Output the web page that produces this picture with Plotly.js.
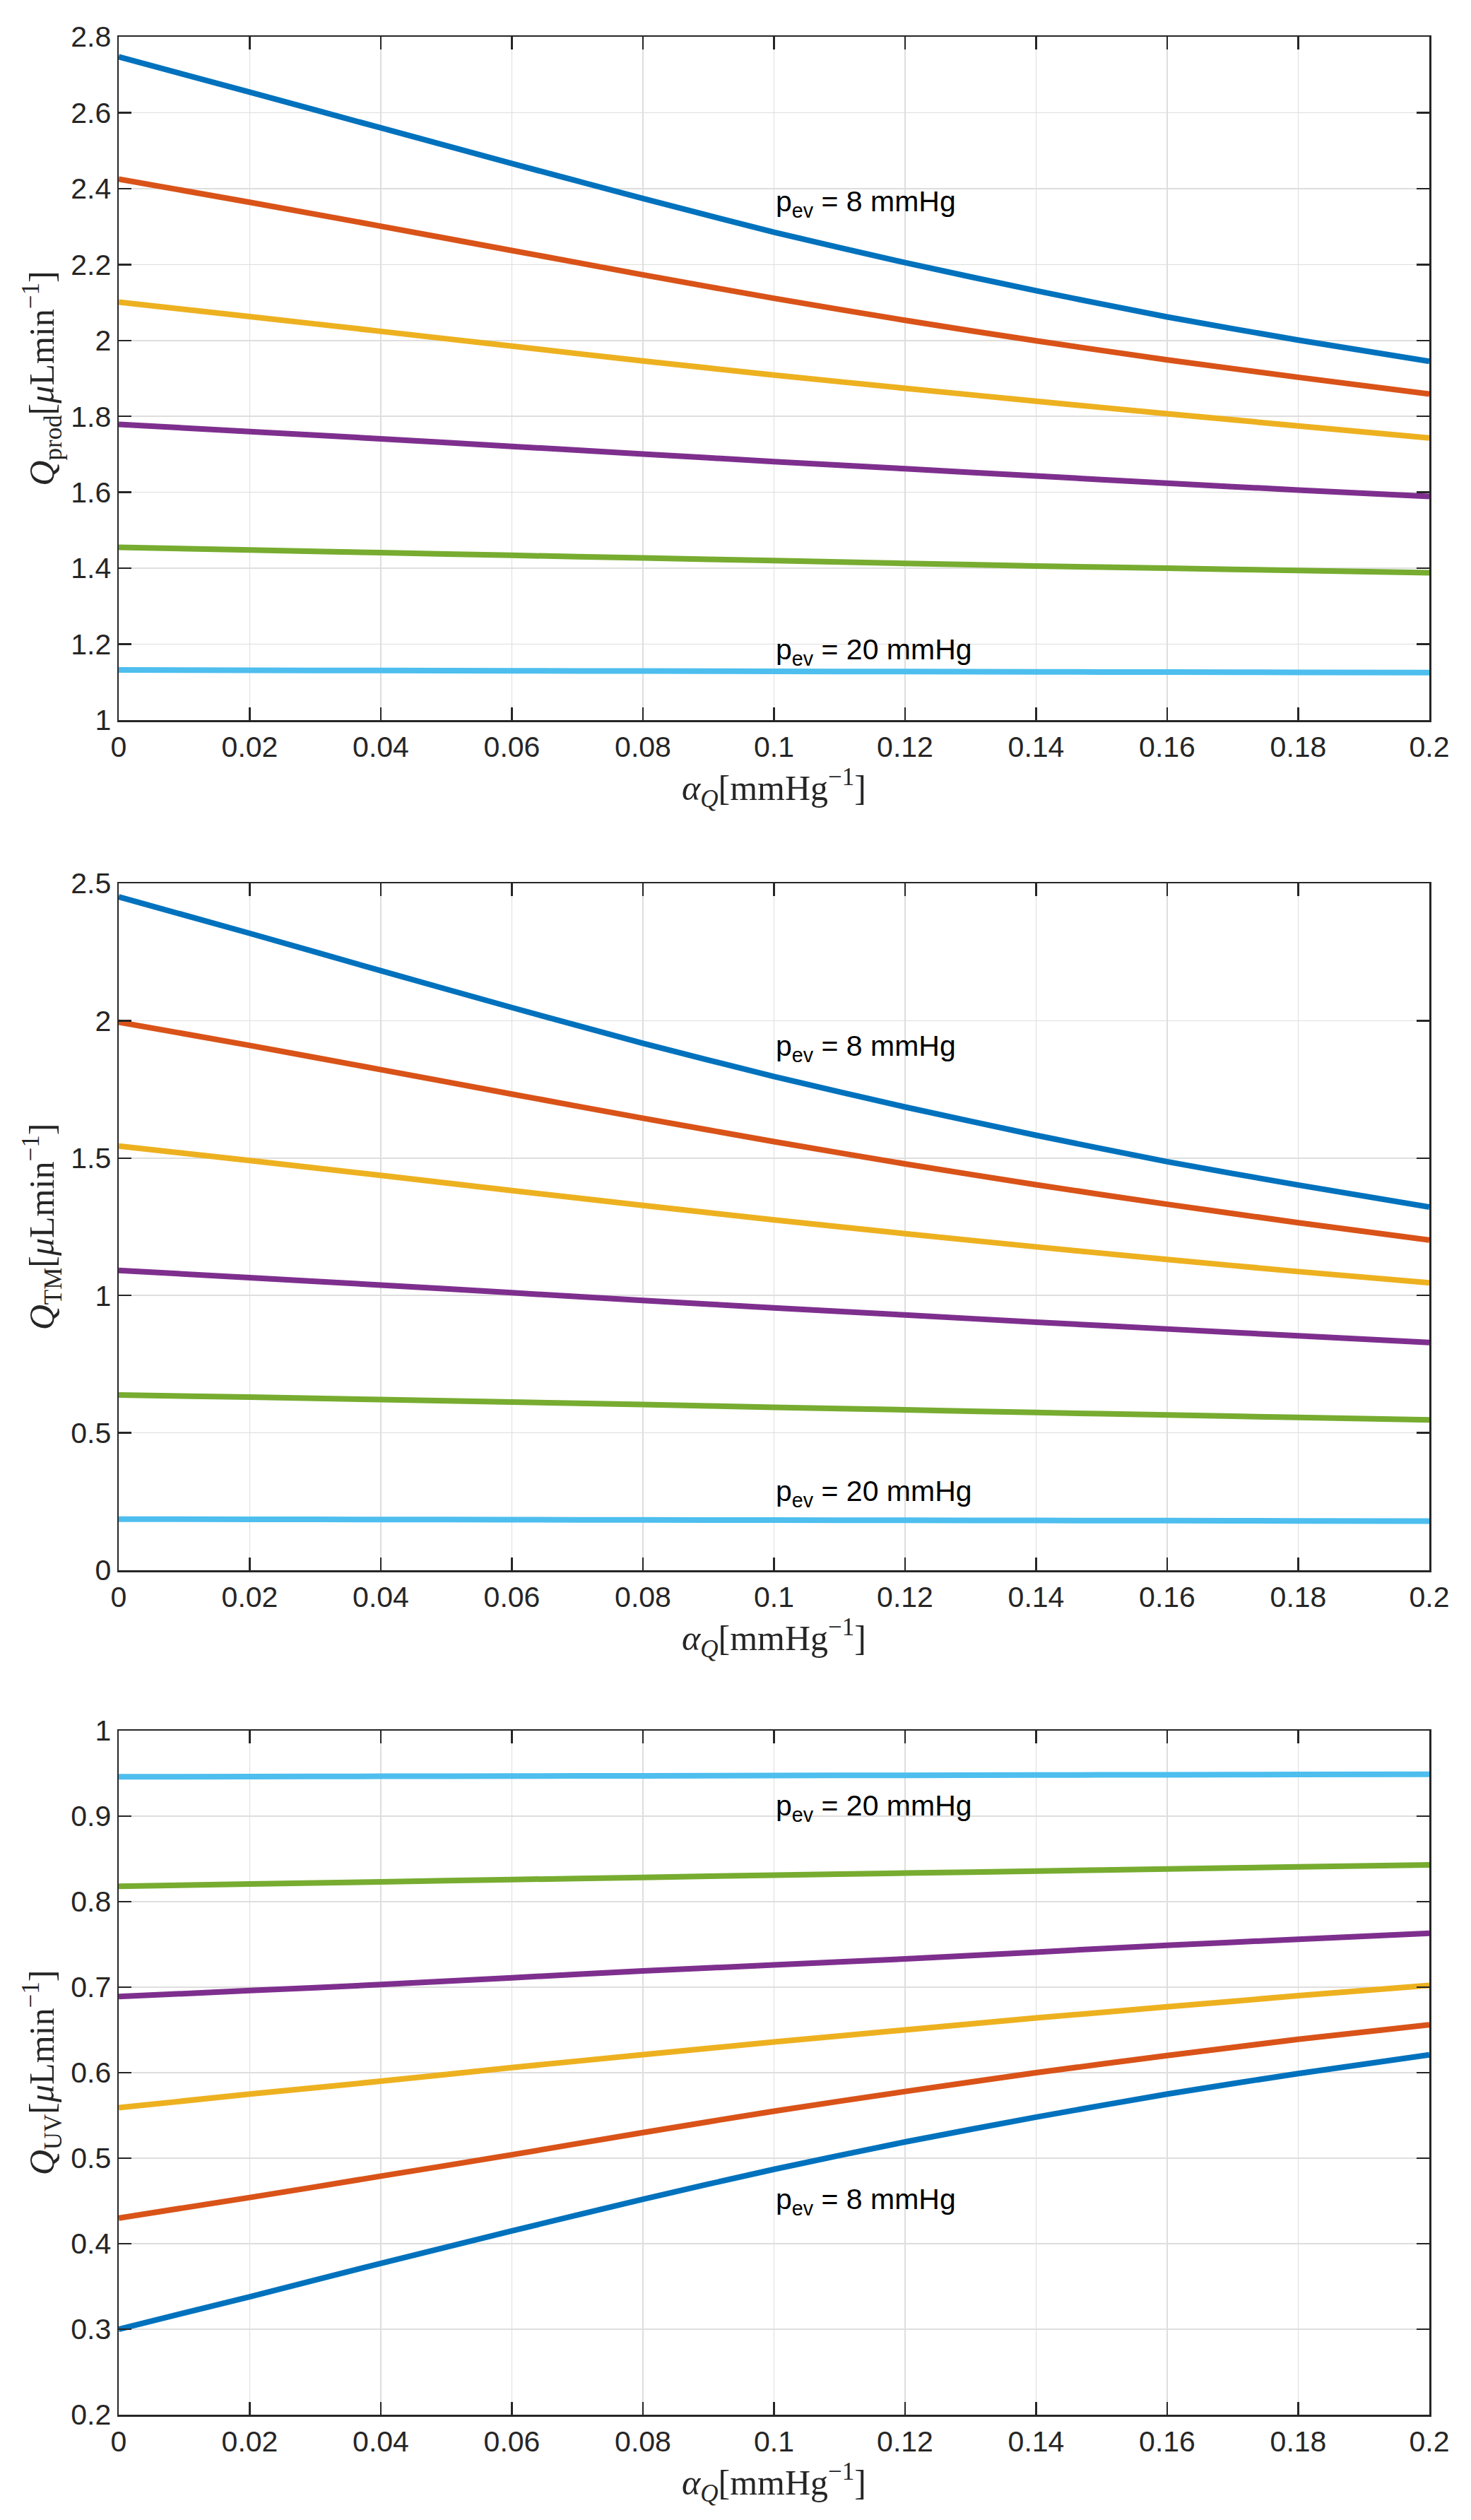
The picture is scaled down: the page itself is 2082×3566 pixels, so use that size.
<!DOCTYPE html>
<html>
<head>
<meta charset="utf-8">
<script src="https://cdn.plot.ly/plotly-3.0.1.min.js"></script>
<style>html,body{margin:0;padding:0;background:#fff;}#chart{width:2082px;height:3566px;}</style>
</head>
<body>
<div id="chart"></div>
<script>
// x values: alpha_Q [mmHg^-1]
const alphaQ = [0, 0.02, 0.04, 0.06, 0.08, 0.10, 0.12, 0.14, 0.16, 0.18, 0.20];

// Series labels (episcleral venous pressure levels, top curve = 8 mmHg, bottom = 20 mmHg)
const seriesNames = ["p_ev = 8 mmHg", "p_ev (2)", "p_ev (3)", "p_ev (4)", "p_ev (5)", "p_ev = 20 mmHg"];
const seriesColors = ["#0072BD", "#D95319", "#EDB120", "#7E2F8E", "#77AC30", "#4DBEEE"];

// Panel 1: Q_prod
const qProd1 = [2.747, 2.654, 2.560, 2.466, 2.374, 2.285, 2.205, 2.131, 2.062, 2.001, 1.945];
const qProd2 = [2.425, 2.364, 2.301, 2.237, 2.173, 2.111, 2.053, 1.999, 1.949, 1.903, 1.859];
const qProd3 = [2.101, 2.063, 2.024, 1.985, 1.946, 1.909, 1.874, 1.840, 1.807, 1.775, 1.743];
const qProd4 = [1.779, 1.760, 1.741, 1.721, 1.701, 1.681, 1.662, 1.643, 1.624, 1.606, 1.589];
const qProd5 = [1.455, 1.448, 1.441, 1.434, 1.427, 1.420, 1.413, 1.406, 1.400, 1.394, 1.388];
const qProd6 = [1.1320, 1.1313, 1.1306, 1.1299, 1.1292, 1.1285, 1.1278, 1.1271, 1.1264, 1.1257, 1.1250];

// Panel 2: Q_TM
const qTM1 = [2.451, 2.318, 2.182, 2.048, 1.918, 1.797, 1.686, 1.583, 1.487, 1.402, 1.322];
const qTM2 = [1.995, 1.910, 1.822, 1.733, 1.645, 1.560, 1.479, 1.403, 1.332, 1.265, 1.202];
const qTM3 = [1.544, 1.491, 1.437, 1.382, 1.328, 1.275, 1.225, 1.177, 1.131, 1.087, 1.046];
const qTM4 = [1.091, 1.065, 1.038, 1.010, 0.982, 0.955, 0.929, 0.903, 0.878, 0.853, 0.829];
const qTM5 = [0.638, 0.630, 0.621, 0.612, 0.603, 0.593, 0.584, 0.574, 0.565, 0.556, 0.547];
const qTM6 = [0.1860, 0.1853, 0.1846, 0.1839, 0.1832, 0.1825, 0.1818, 0.1811, 0.1804, 0.1797, 0.1790];

// Panel 3: Q_UV
const qUV1 = [0.300, 0.338, 0.377, 0.415, 0.452, 0.487, 0.519, 0.548, 0.575, 0.599, 0.621];
const qUV2 = [0.430, 0.454, 0.479, 0.504, 0.530, 0.555, 0.578, 0.600, 0.620, 0.639, 0.656];
const qUV3 = [0.559, 0.575, 0.590, 0.606, 0.621, 0.636, 0.650, 0.664, 0.677, 0.690, 0.702];
const qUV4 = [0.689, 0.696, 0.703, 0.711, 0.719, 0.726, 0.733, 0.741, 0.749, 0.756, 0.763];
const qUV5 = [0.818, 0.8206, 0.8232, 0.8258, 0.8284, 0.8310, 0.8334, 0.8358, 0.8382, 0.8406, 0.8430];
const qUV6 = [0.9460, 0.9463, 0.9466, 0.9469, 0.9472, 0.9475, 0.9478, 0.9481, 0.9484, 0.9487, 0.9490];

// Axis text
const xTitle = "<i>α</i><sub><i>Q</i></sub>[mmHg<sup>−1</sup>]";
const yTitles = [
  "<i>Q</i><sub>prod</sub>[<i>μ</i>Lmin<sup>−1</sup>]",
  "<i>Q</i><sub>TM</sub>[<i>μ</i>Lmin<sup>−1</sup>]",
  "<i>Q</i><sub>UV</sub>[<i>μ</i>Lmin<sup>−1</sup>]"
];
const yRanges = [[1, 2.8], [0, 2.5], [0.2, 1]];
const yDticks = [0.2, 0.5, 0.1];
const labelLow = "p<sub>ev</sub> = 8 mmHg";
const labelHigh = "p<sub>ev</sub> = 20 mmHg";
const labelX = [0.1, 0.1, 0.1];
const labelLowY = [2.36, 1.90, 0.45];
const labelHighY = [1.18, 0.28, 0.91];

const panels = [
  [qProd1, qProd2, qProd3, qProd4, qProd5, qProd6],
  [qTM1, qTM2, qTM3, qTM4, qTM5, qTM6],
  [qUV1, qUV2, qUV3, qUV4, qUV5, qUV6]
];

const traces = [];
panels.forEach((series, p) => {
  const suffix = p === 0 ? "" : String(p + 1);
  series.forEach((ys, i) => {
    traces.push({
      x: alphaQ, y: ys, type: "scatter", mode: "lines",
      name: seriesNames[i],
      line: {color: seriesColors[i], width: 8, shape: "spline", smoothing: 0.6},
      xaxis: "x" + suffix, yaxis: "y" + suffix,
      showlegend: false, hoverinfo: "skip"
    });
  });
});

const W = 2082, H = 3566;
const mL = 168, mR = 59, mT = 52, mB = 149;
const plotH = H - mT - mB;
// pixel boxes (top, bottom) of each panel
const boxes = [[52, 1019], [1250, 2222], [2449, 3417]];
const toPaper = (px) => (H - mB - px) / plotH;

const tickFont = {family: "Liberation Sans", size: 41, color: "#262626"};
const titleFont = {family: "Liberation Serif", size: 50, color: "#262626"};

function xAxis(anchor) {
  return {
    domain: [0, 1], anchor: anchor, range: [0, 0.2], dtick: 0.02, tick0: 0,
    showgrid: true, gridcolor: "#dedede", gridwidth: 1.5, zeroline: false,
    showline: true, linecolor: "#262626", linewidth: 2.5, mirror: "ticks",
    ticks: "inside", ticklen: 18, tickwidth: 2.5, tickcolor: "#262626",
    tickfont: tickFont, automargin: false,
    title: {text: xTitle, font: titleFont, standoff: 6}
  };
}
function yAxis(anchor, k) {
  return {
    domain: [toPaper(boxes[k][1]), toPaper(boxes[k][0])], anchor: anchor,
    range: yRanges[k], dtick: yDticks[k], tick0: 0,
    showgrid: true, gridcolor: "#dedede", gridwidth: 1.5, zeroline: false,
    showline: true, linecolor: "#262626", linewidth: 2.5, mirror: "ticks",
    ticks: "inside", ticklen: 18, tickwidth: 2.5, tickcolor: "#262626",
    tickfont: tickFont, automargin: false,
    title: {text: yTitles[k], font: titleFont, standoff: 8}
  };
}

const annotations = [];
for (let k = 0; k < 3; k++) {
  const suffix = k === 0 ? "" : String(k + 1);
  [[labelLow, labelLowY[k]], [labelHigh, labelHighY[k]]].forEach(([t, yy]) => {
    annotations.push({
      x: labelX[k], y: yy, xref: "x" + suffix, yref: "y" + suffix,
      text: t, showarrow: false, xanchor: "left", yanchor: "middle",
      font: {family: "Liberation Sans", size: 41, color: "#000000"}
    });
  });
}

const layout = {
  width: W, height: H,
  margin: {l: mL, r: mR, t: mT, b: mB},
  paper_bgcolor: "#ffffff", plot_bgcolor: "#ffffff",
  showlegend: false,
  xaxis: xAxis("y"), yaxis: yAxis("x", 0),
  xaxis2: xAxis("y2"), yaxis2: yAxis("x2", 1),
  xaxis3: xAxis("y3"), yaxis3: yAxis("x3", 2),
  annotations: annotations
};

Plotly.newPlot("chart", traces, layout, {staticPlot: true, displayModeBar: false});
</script>
</body>
</html>
